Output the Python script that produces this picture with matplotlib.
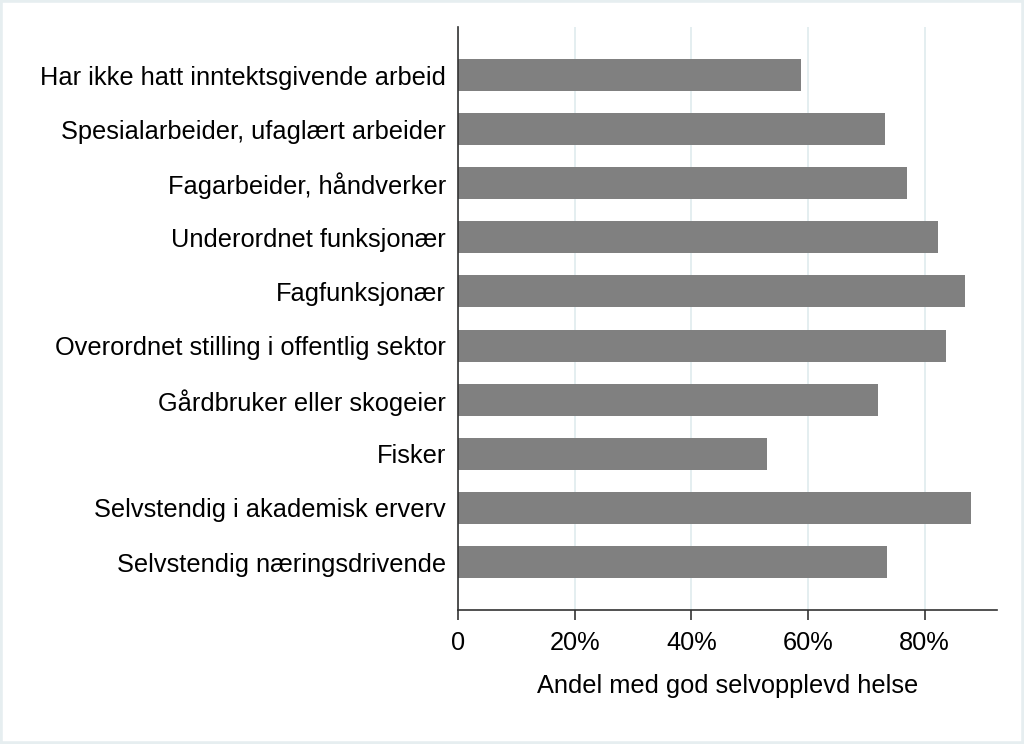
import numpy as np
import matplotlib
matplotlib.use('Agg')
import matplotlib.pyplot as plt
from matplotlib.patches import Rectangle

plt.rcParams['font.family'] = ['Liberation Sans', 'DejaVu Sans']

# ── Données ────────────────────────────────────────────────────────────
kategorier = [
    'Har ikke hatt inntektsgivende arbeid',
    'Spesialarbeider, ufaglært arbeider',
    'Fagarbeider, håndverker',
    'Underordnet funksjonær',
    'Fagfunksjonær',
    'Overordnet stilling i offentlig sektor',
    'Gårdbruker eller skogeier',
    'Fisker',
    'Selvstendig i akademisk erverv',
    'Selvstendig næringsdrivende',
]
andel = [58.8, 73.2, 76.9, 82.3, 86.9, 83.6, 72.0, 53.0, 87.9, 73.5]
xticks = [0, 20, 40, 60, 80]
xtick_labels = ['0', '20%', '40%', '60%', '80%']

FS = 18.3

# ── Figure ─────────────────────────────────────────────────────────────
fig = plt.figure(figsize=(10.24, 7.44), dpi=100)
ax = fig.add_axes([0.4473, 0.1801, 0.9736 - 0.4473, 0.9637 - 0.1801])

y = np.arange(len(kategorier))
ax.barh(y, andel, height=0.59, color='#808080', zorder=2)

ax.set_ylim(len(kategorier) - 1 + 0.887, -0.887)
ax.set_xlim(0, 92.4)
ax.set_yticks(y)
ax.set_yticklabels(kategorier, fontsize=FS)
ax.set_xticks(xticks)
ax.set_xticklabels(xtick_labels, fontsize=FS)
ax.set_xlabel('Andel med god selvopplevd helse', fontsize=FS, labelpad=14)

ax.xaxis.grid(True, color='#e2edef', linewidth=1.3, zorder=0)
ax.set_axisbelow(True)
ax.tick_params(axis='y', length=0, pad=8.5)
ax.tick_params(axis='x', length=7, width=1.2, color='#333333', pad=8)
for s in ['top', 'right']:
    ax.spines[s].set_visible(False)
for s in ['left', 'bottom']:
    ax.spines[s].set_color('#333333')
    ax.spines[s].set_linewidth(1.2)

# cadre extérieur
fig.patches.append(Rectangle((0, 0), 1, 1, transform=fig.transFigure,
                             fill=False, edgecolor='#e6eef0', linewidth=4))

fig.savefig('out.png', dpi=100)
